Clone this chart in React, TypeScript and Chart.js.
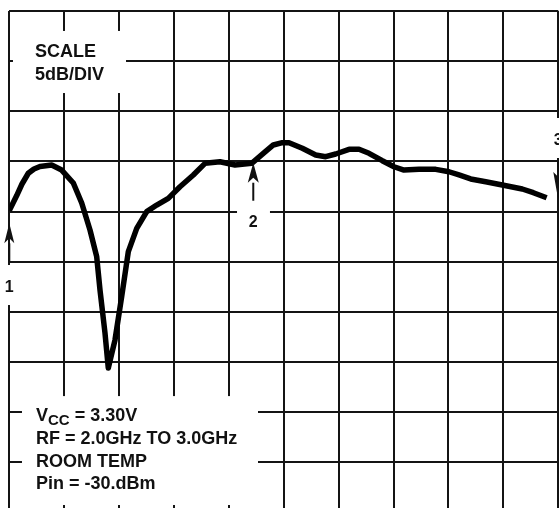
import React, { useEffect, useRef } from "react";
import { Chart, registerables } from "chart.js";

Chart.register(...registerables);

// ---- data (frequency in GHz, level in dB relative to top graticule line, 5 dB/div) ----
const freqGHz = [
  2.0, 2.0135, 2.0231, 2.0346, 2.045, 2.0559, 2.0772, 2.0954, 2.1166, 2.1319,
  2.147, 2.1592, 2.1652, 2.1743, 2.1803, 2.1925, 2.2047, 2.2168, 2.2321, 2.2503,
  2.2685, 2.2896, 2.3109, 2.3352, 2.3565, 2.3838, 2.4111, 2.4415, 2.4627, 2.4809,
  2.4973, 2.5095, 2.5337, 2.5581, 2.5763, 2.5945, 2.6188, 2.637, 2.6552, 2.6794,
  2.7007, 2.7189, 2.7463, 2.7767, 2.8009, 2.8191, 2.8404, 2.8678, 2.898, 2.9344,
  2.9546, 2.9788,
];
const levelDb = [
  -19.89, -18.4, -17.25, -16.18, -15.75, -15.5, -15.36, -15.86, -17.15, -19.15,
  -21.84, -24.5, -27.82, -32.11, -35.6, -32.81, -28.49, -24.0, -21.67, -20.01,
  -19.35, -18.68, -17.52, -16.35, -15.19, -15.03, -15.36, -15.19, -14.19, -13.36,
  -13.13, -13.13, -13.69, -14.36, -14.53, -14.26, -13.79, -13.79, -14.19, -14.93,
  -15.53, -15.86, -15.79, -15.79, -16.03, -16.35, -16.75, -17.02, -17.35, -17.75,
  -18.12, -18.62,
];
const xGridTicks = [2.0, 2.1, 2.2, 2.3, 2.4, 2.5, 2.6, 2.7, 2.8, 2.9, 3.0];
const yGridTicks = [-45, -40, -35, -30, -25, -20, -15, -10, -5, 0];
const scaleLines = ["SCALE", "5dB/DIV"];
const conditionLines = ["RF = 2.0GHz TO 3.0GHz", "ROOM TEMP", "Pin = -30.dBm"];
const vccParts = ["V", "CC", " = 3.30V"];
const markerLabels = ["1", "2", "3"];
const markerFreqs = [2.0, 2.4444, 3.0];

// ---- layout of annotations (data coordinates) ----
const FONT = '"Liberation Sans", Arial, Helvetica, sans-serif';
const whiteBoxes = [
  { x0: 2.0067, x1: 2.2126, y0: -1.99, y1: -8.18 },
  { x0: 2.0231, x1: 2.453, y0: -38.4, y1: -49.26 },
  { x0: 2.4148, x1: 2.4748, y0: -19.2, y1: -22.8 },
  { x0: 1.98, x1: 2.02, y0: -25.33, y1: -29.32 },
  { x0: 2.98, x1: 3.02, y0: -10.67, y1: -14.66 },
];
const arrows = [
  { tail: -25.0, tip: -21.17, head: 20, half: 5 },
  { tail: -18.92, tip: -15.13, head: 20, half: 5.5 },
  { tail: -14.66, tip: -18.85, head: 28, half: 5 },
];
const labelBaselines = [-27.99, -21.57, -13.36];

const annotationPlugin = {
  id: "graticuleAnnotations",
  afterDatasetsDraw(chart: any) {
    const ctx: CanvasRenderingContext2D = chart.ctx;
    const xs = chart.scales.x;
    const ys = chart.scales.y;
    const px = (v: number) => xs.getPixelForValue(v);
    const py = (v: number) => ys.getPixelForValue(v);
    ctx.save();
    ctx.fillStyle = "#ffffff";
    whiteBoxes.forEach((b) => {
      ctx.fillRect(px(b.x0), py(b.y0), px(b.x1) - px(b.x0), py(b.y1) - py(b.y0));
    });
    ctx.strokeStyle = "#111111";
    ctx.fillStyle = "#111111";
    ctx.lineWidth = 2;
    markerFreqs.forEach((f, i) => {
      const a = arrows[i];
      const x = px(f);
      const yTail = py(a.tail);
      const yTip = py(a.tip);
      const dir = yTip < yTail ? 1 : -1;
      const yBase = yTip + dir * a.head;
      ctx.beginPath();
      ctx.moveTo(x, yTail);
      ctx.lineTo(x, yBase);
      ctx.stroke();
      ctx.beginPath();
      ctx.moveTo(x, yTip);
      ctx.lineTo(x - a.half, yBase);
      ctx.lineTo(x, yBase - dir * 5);
      ctx.lineTo(x + a.half, yBase);
      ctx.closePath();
      ctx.fill();
      ctx.font = `bold 16px ${FONT}`;
      ctx.textAlign = "center";
      ctx.textBaseline = "alphabetic";
      ctx.fillText(markerLabels[i], x, py(labelBaselines[i]));
    });
    ctx.textAlign = "left";
    ctx.font = `bold 18px ${FONT}`;
    const sx = px(2.0468);
    ctx.fillText(scaleLines[0], sx, py(-4.557));
    ctx.fillText(scaleLines[1], sx, py(-6.88));
    const cx = px(2.0486);
    const b0 = py(-40.86);
    ctx.font = `bold 18px ${FONT}`;
    ctx.fillText(vccParts[0], cx, b0);
    let w = ctx.measureText(vccParts[0]).width;
    ctx.font = `bold 15px ${FONT}`;
    ctx.fillText(vccParts[1], cx + w, b0 + 4.3);
    w += ctx.measureText(vccParts[1]).width;
    ctx.font = `bold 18px ${FONT}`;
    ctx.fillText(vccParts[2], cx + w, b0);
    const bl = [-43.18, -45.44, -47.7];
    conditionLines.forEach((t, i) => ctx.fillText(t, cx, py(bl[i])));
    ctx.restore();
  },
};

export default function App() {
  const ref = useRef<HTMLCanvasElement | null>(null);
  useEffect(() => {
    if (!ref.current) return;
    const chart = new Chart(ref.current, {
      type: "line",
      data: {
        datasets: [
          {
            data: freqGHz.map((f, i) => ({ x: f, y: levelDb[i] })),
            borderColor: "#000000",
            borderWidth: 5.5,
            borderJoinStyle: "round",
            borderCapStyle: "butt",
            pointRadius: 0,
            tension: 0,
            fill: false,
          },
        ],
      },
      options: {
        animation: false,
        responsive: false,
        events: [],
        layout: { padding: { left: 9.3, right: 0.7, top: 11, bottom: 0 } },
        plugins: { legend: { display: false }, tooltip: { enabled: false }, title: { display: false } },
        scales: {
          x: {
            type: "linear",
            min: 2.0,
            max: 3.0,
            afterBuildTicks: (s: any) => {
              s.ticks = xGridTicks.map((v) => ({ value: v }));
            },
            ticks: { display: false },
            grid: { color: "#141414", lineWidth: 2, drawTicks: false },
            border: { display: false },
          },
          y: {
            type: "linear",
            min: -49.56,
            max: 0,
            afterBuildTicks: (s: any) => {
              s.ticks = yGridTicks.map((v) => ({ value: v }));
            },
            ticks: { display: false },
            grid: { color: "#141414", lineWidth: 2, drawTicks: false },
            border: { display: false },
          },
        },
      },
      plugins: [annotationPlugin],
    });
    return () => chart.destroy();
  }, []);
  return (
    <div style={{ position: "fixed", left: 0, top: 0, width: 559, height: 508, background: "#fff" }}>
      <canvas ref={ref} width={559} height={508} style={{ display: "block" }} />
    </div>
  );
}
